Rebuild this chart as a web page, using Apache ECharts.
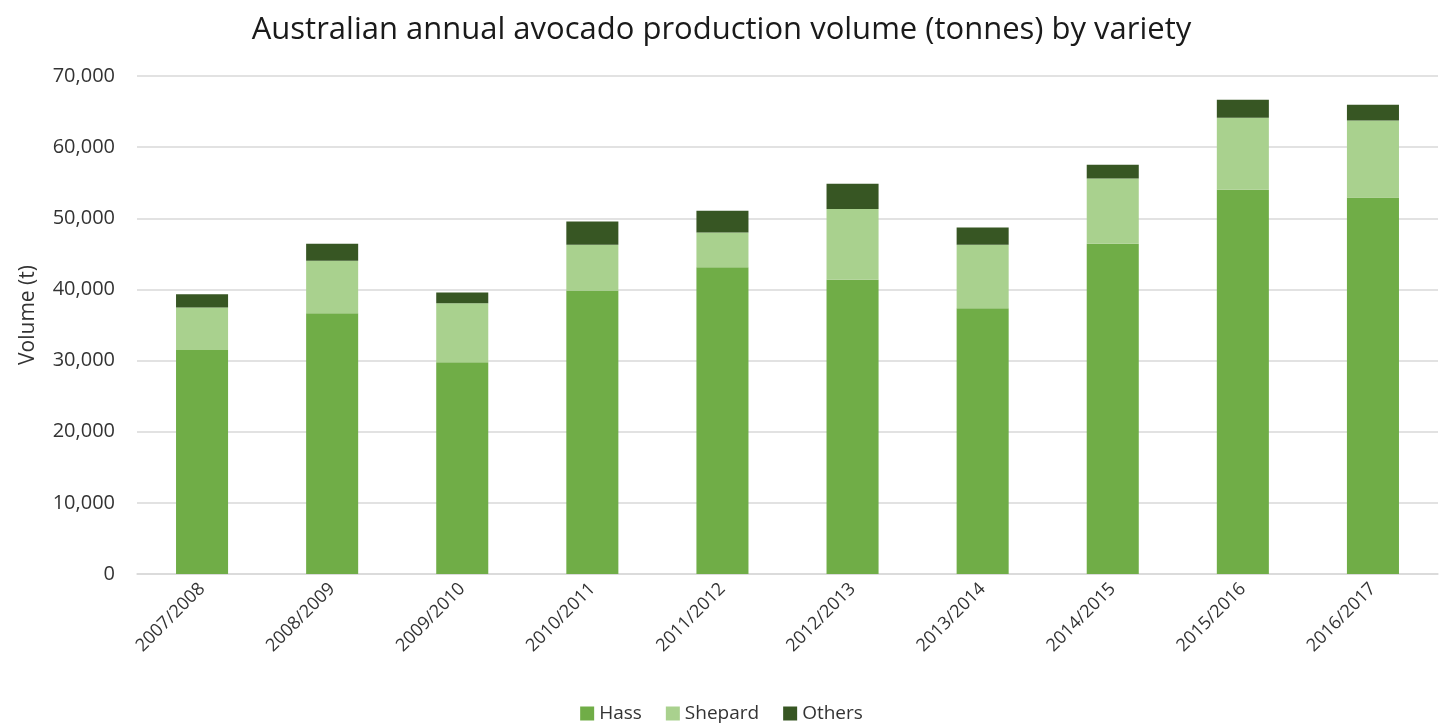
<!DOCTYPE html>
<html>
<head>
<meta charset="utf-8">
<script src="https://cdn.jsdelivr.net/npm/echarts@6/dist/echarts.min.js"></script>
<style>html,body{margin:0;padding:0;background:#fff}#c{width:1443px;height:726px}</style>
</head>
<body>
<div id="c"></div>
<script>
const categories = ['2007/2008','2008/2009','2009/2010','2010/2011','2011/2012','2012/2013','2013/2014','2014/2015','2015/2016','2016/2017'];
const hass    = [31500, 36660, 29770, 39840, 43130, 41350, 37370, 46410, 54000, 52920];
const shepard = [5950, 7360, 8300, 6430, 4870, 9940, 8900, 9180, 10130, 10830];
const others  = [1880, 2390, 1490, 3270, 3050, 3560, 2430, 1930, 2530, 2210];
const yTicks = { min: 0, max: 70000, interval: 10000 };

const font = 'Open Sans';
const chart = echarts.init(document.getElementById('c'));
const mk = (name, data, color) => ({
  name, type: 'bar', stack: 'total', data, barWidth: '40%',
  itemStyle: { color }, emphasis: { disabled: true }
});
chart.setOption({
  animation: false,
  title: {
    text: 'Australian annual avocado production volume (tonnes) by variety',
    left: 'center', top: 10,
    textStyle: { fontFamily: font, fontSize: 31, fontWeight: 'normal', color: '#1a1a1a' }
  },
  legend: {
    bottom: -2, left: 'center', itemWidth: 14, itemHeight: 14, itemGap: 24,
    icon: 'rect',
    textStyle: { fontFamily: font, fontSize: 19, color: '#333' },
    data: ['Hass', 'Shepard', 'Others']
  },
  grid: { left: 137, right: 5, top: 76, bottom: 152, containLabel: false },
  xAxis: {
    type: 'category', data: categories,
    axisLine: { lineStyle: { color: '#d9d9d9', width: 1.5 } },
    axisTick: { show: false },
    axisLabel: { rotate: 45, margin: 12, fontFamily: font, fontSize: 18, color: '#333' }
  },
  yAxis: {
    type: 'value', min: yTicks.min, max: yTicks.max, interval: yTicks.interval,
    name: 'Volume (t)', nameLocation: 'middle', nameGap: 98, nameRotate: 90,
    nameTextStyle: { fontFamily: font, fontSize: 21, color: '#333', padding: [0, 0, 0, 20] },
    axisLine: { show: false }, axisTick: { show: false },
    splitLine: { lineStyle: { color: '#d9d9d9', width: 1.5 } },
    axisLabel: {
      margin: 22, fontFamily: font, fontSize: 20, color: '#333',
      formatter: v => v.toLocaleString('en-US')
    }
  },
  series: [
    mk('Hass', hass, '#70AD47'),
    mk('Shepard', shepard, '#A9D18E'),
    mk('Others', others, '#375623')
  ]
});
</script>
</body>
</html>
